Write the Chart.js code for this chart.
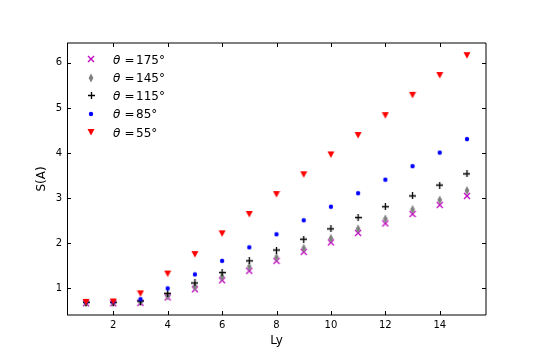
<!DOCTYPE html>
<html><head><meta charset="utf-8">
<script src="https://cdn.jsdelivr.net/npm/chart.js@4.4.0/dist/chart.umd.min.js"></script>
<style>html,body{margin:0;padding:0;background:#fff}</style>
</head><body>
<canvas id="c" width="540" height="360"></canvas>
<script>
// ---- data ----
const lyValues = [1,2,3,4,5,6,7,8,9,10,11,12,13,14,15];
const thetaLabels = [175,145,115,85,55];
const s175 = [0.67,0.67,0.68,0.80,0.98,1.18,1.39,1.61,1.81,2.02,2.23,2.44,2.65,2.85,3.05];
const s145 = [0.68,0.68,0.70,0.83,1.04,1.26,1.48,1.69,1.89,2.11,2.32,2.54,2.75,2.96,3.17];
const s115 = [0.69,0.69,0.72,0.89,1.12,1.35,1.61,1.85,2.09,2.32,2.57,2.81,3.05,3.29,3.54];
const s85  = [0.70,0.70,0.76,1.00,1.31,1.61,1.91,2.20,2.51,2.81,3.11,3.41,3.71,4.01,4.31];
const s55  = [0.70,0.71,0.89,1.33,1.76,2.22,2.65,3.09,3.53,3.97,4.40,4.84,5.29,5.73,6.17];
const xTickValues = [2,4,6,8,10,12,14];
const yTickValues = [1,2,3,4,5,6];
const xLabel = 'Ly';
const yLabel = 'S(A)';

// ---- marker images ----
function mk(w,h,draw){const c=document.createElement('canvas');c.width=w;c.height=h;const g=c.getContext('2d');draw(g,w,h);return c;}
const mX = mk(8,8,g=>{g.strokeStyle='#bf00bf';g.lineWidth=1.3;g.beginPath();g.moveTo(1,1);g.lineTo(7,7);g.moveTo(7,1);g.lineTo(1,7);g.stroke();});
const mD = mk(6,10,g=>{g.fillStyle='#808080';g.beginPath();g.moveTo(3,0.5);g.lineTo(5.4,5);g.lineTo(3,9.5);g.lineTo(0.6,5);g.closePath();g.fill();});
const mP = mk(7,7,g=>{g.strokeStyle='#000';g.lineWidth=1.3;g.beginPath();g.moveTo(0,3.5);g.lineTo(7,3.5);g.moveTo(3.5,0);g.lineTo(3.5,7);g.stroke();});
const mO = mk(6,6,g=>{g.fillStyle='#0000ff';g.beginPath();g.arc(3,3,2.2,0,2*Math.PI);g.fill();});
const mV = mk(8,8,g=>{g.fillStyle='#ff0000';g.beginPath();g.moveTo(0.5,1);g.lineTo(7.5,1);g.lineTo(4,7.5);g.closePath();g.fill();});
const markers = [mX,mD,mP,mO,mV];
const series = [s175,s145,s115,s85,s55];

const datasets = series.map((s,i)=>({
  label: 'θ = ' + thetaLabels[i] + '°',
  data: lyValues.map((x,j)=>({x:x,y:s[j]})),
  pointStyle: markers[i],
  pointRadius: 4,
  order: series.length - 1 - i,
  showLine: false
}));

const framePlugin = {
  id:'frame',
  afterDatasetsDraw(chart){
    const ctx = chart.ctx, ca = chart.chartArea;
    const xs = chart.scales.x, ys = chart.scales.y;
    ctx.save();
    ctx.strokeStyle = '#000'; ctx.lineWidth = 1;
    ctx.beginPath();
    ctx.moveTo(ca.left+0.5, ca.top); ctx.lineTo(ca.left+0.5, ca.bottom);
    ctx.moveTo(ca.left, ca.bottom); ctx.lineTo(ca.right, ca.bottom);
    ctx.moveTo(ca.right, ca.bottom); ctx.lineTo(ca.right, ca.top);
    ctx.moveTo(ca.right, ca.top); ctx.lineTo(ca.left, ca.top);
    ctx.stroke();
    ctx.beginPath();
    xTickValues.forEach(v=>{
      const px = Math.round(xs.getPixelForValue(v))+0.5;
      ctx.moveTo(px, ca.bottom); ctx.lineTo(px, ca.bottom-4);
      ctx.moveTo(px, ca.top); ctx.lineTo(px, ca.top+4);
    });
    yTickValues.forEach(v=>{
      const py = Math.round(ys.getPixelForValue(v))+0.5;
      ctx.moveTo(ca.left, py); ctx.lineTo(ca.left+4, py);
      ctx.moveTo(ca.right, py); ctx.lineTo(ca.right-4, py);
    });
    ctx.stroke();
    // legend
    ctx.fillStyle = '#000';
    ctx.textBaseline = 'alphabetic';
    thetaLabels.forEach((t,i)=>{
      const y = ca.top + 16.3 + i*18.25;
      const img = markers[i];
      ctx.drawImage(img, Math.round(ca.left + 24 - img.width/2), Math.round(y - img.height/2));
      ctx.font = 'italic 12px "DejaVu Sans"';
      ctx.fillText('θ', ca.left + 46, y + 4.3);
      ctx.font = '12px "DejaVu Sans"';
      ctx.fillText('=', ca.left + 57.5, y + 4.3);
      ctx.fillText(t + '°', ca.left + 69, y + 4.3);
    });
    ctx.restore();
  }
};

Chart.defaults.font.family = '"DejaVu Sans"';
Chart.defaults.color = '#000';

new Chart(document.getElementById('c'), {
  type: 'scatter',
  data: { datasets: datasets },
  options: {
    responsive: false, animation: false, devicePixelRatio: 1,
    layout: { padding: { top: 43, right: 54, bottom: 0, left: 0 } },
    plugins: { legend: { display: false }, tooltip: { enabled: false } },
    scales: {
      x: {
        type: 'linear', min: 0.3, max: 15.7,
        afterBuildTicks: s => { s.ticks = xTickValues.map(v=>({value:v})); },
        afterFit: s => { s.height = 45; },
        grid: { display: false, drawTicks: false }, border: { display: false },
        ticks: { padding: 4, color: '#000', font: { size: 10 } },
        title: { display: true, text: xLabel, color: '#000', font: { size: 12 }, padding: { top: 0, bottom: 12 } }
      },
      y: {
        type: 'linear', min: 0.41, max: 6.44,
        afterBuildTicks: s => { s.ticks = yTickValues.map(v=>({value:v})); },
        afterFit: s => { s.width = 67; },
        grid: { display: false, drawTicks: false }, border: { display: false },
        ticks: { padding: 5, color: '#000', font: { size: 10 } },
        title: { display: true, text: yLabel, color: '#000', font: { size: 12 }, padding: { top: 35, bottom: 0 } }
      }
    }
  },
  plugins: [framePlugin]
});
</script>
</body></html>
